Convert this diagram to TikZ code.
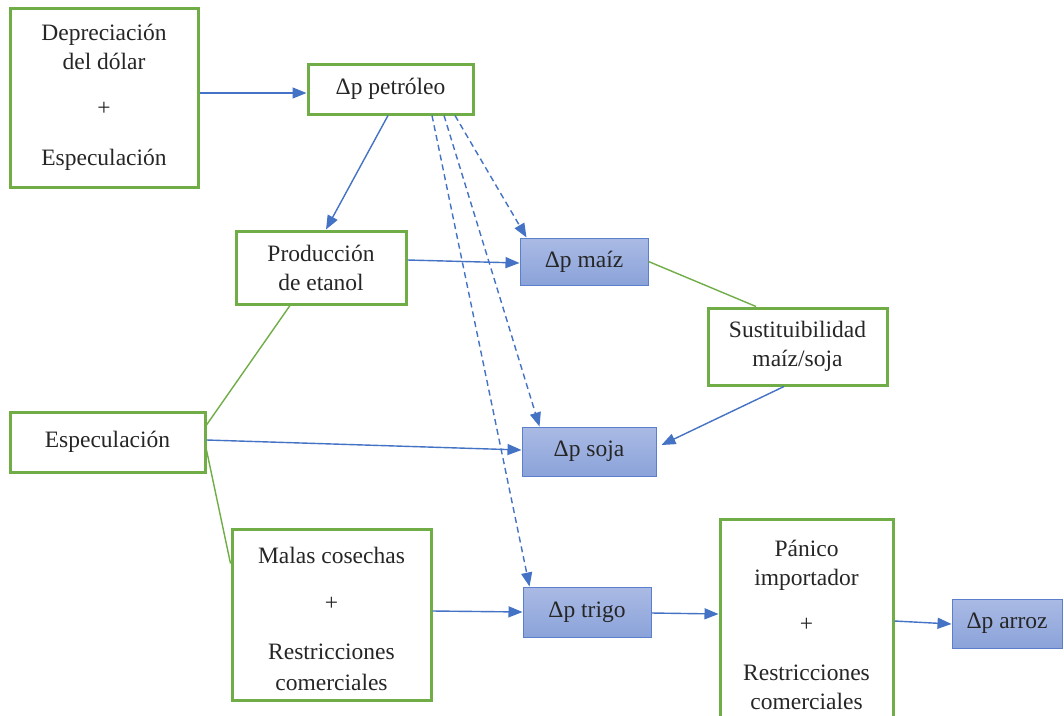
\documentclass[tikz,border=0pt]{standalone}
\usepackage{fontspec}
\setmainfont{Liberation Serif}
\usetikzlibrary{arrows.meta,calc}
\definecolor{grn}{HTML}{70AD47}
\definecolor{blu}{HTML}{4472C4}
\definecolor{ftop}{HTML}{AABAE4}
\definecolor{fbot}{HTML}{8BA3DA}
\definecolor{fedge}{HTML}{5B7FCB}
\begin{document}
\begin{tikzpicture}[x=1pt,y=-1pt,
  every node/.style={font=\fontsize{23.5}{29}\selectfont, align=center, inner sep=0pt, text=black!85},
  gbox/.style={draw=grn, line width=3pt, fill=white},
  pbox/.style={draw=fedge, line width=1pt, top color=ftop, bottom color=fbot},
  arr/.style={draw=blu, line width=1.4pt, -{Triangle[length=14pt,width=11pt]}},
  darr/.style={arr, dash pattern=on 6pt off 4pt},
  gline/.style={draw=grn, line width=1.4pt}]
\path[use as bounding box, fill=white] (0,0) rectangle (1064,715);

\node[gbox, minimum width=188pt, minimum height=179pt] (dep) at (104,97.5)
  {Depreciación\\del dólar\\[17pt]+\\[21pt]Especulación};
\node[gbox, minimum width=165pt, minimum height=50pt] (pet) at (390.5,89) {Δp petróleo};
\node[gbox, minimum width=170pt, minimum height=73pt] (prod) at (321,267.5) {Producción\\de etanol};
\node[pbox, minimum width=128pt, minimum height=47pt] (maiz) at (584,261.5) {Δp maíz};
\node[gbox, minimum width=179pt, minimum height=77pt] (sust) at (797.5,346.5) {Sustituibilidad\\maíz/soja};
\node[gbox, minimum width=195pt, minimum height=60pt] (esp) at (107.5,442) {Especulación};
\node[pbox, minimum width=134pt, minimum height=49pt] (soja) at (589,451.5) {Δp soja};
\node[gbox, minimum width=199pt, minimum height=171pt] (malas) at (331.5,614.5)
  {\rule{0pt}{26pt}Malas cosechas\\[18pt]+\\[20pt]Restricciones\\[2pt]comerciales};
\node[pbox, minimum width=128pt, minimum height=50pt] (trigo) at (587,612) {Δp trigo};
\node[gbox, minimum width=173pt, minimum height=211pt] (pan) at (806.5,624.5)
  {Pánico\\importador\\[17pt]+\\[20pt]Restricciones\\comerciales};
\node[pbox, minimum width=110pt, minimum height=49pt] (arroz) at (1007,623.5) {Δp arroz};

\draw[arr] ($(dep.east)+(0,-4.5)$) -- ($(pet.west)+(0,4)$);
\draw[arr] ($(pet.south)+(-2.5,0)$) -- ($(prod.north)+(5,0)$);
\draw[darr] ($(pet.south)+(64.5,0)$) -- ($(maiz.north west)+(7,0)$);
\draw[darr] ($(pet.south)+(53.5,0)$) -- ($(soja.north west)+(18,0)$);
\draw[darr] ($(pet.south)+(41.5,0)$) -- ($(trigo.north west)+(7,0)$);
\draw[arr] ($(prod.east)+(0,-7.5)$) -- ($(maiz.west)+(0,1.5)$);
\draw[gline] (maiz.east) -- ($(sust.north)+(-41.5,0)$);
\draw[arr] ($(sust.south)+(-13.5,0)$) -- ($(soja.east)+(5,-6.5)$);
\draw[gline] ($(prod.south)+(-31,0)$) -- ($(esp.east)+(0,-17)$);
\draw[arr] ($(esp.east)+(0,-2)$) -- ($(soja.west)+(0,-1.5)$);
\draw[gline] ($(esp.east)+(0,8)$) -- ($(malas.west)+(0,-51)$);
\draw[arr] ($(malas.east)+(0,-3.5)$) -- (trigo.west);
\draw[arr] ($(trigo.east)+(0,1)$) -- ($(pan.west)+(0,-10.5)$);
\draw[arr] ($(pan.east)+(0,-3.5)$) -- ($(arroz.west)+(0,0.5)$);
\end{tikzpicture}
\end{document}
